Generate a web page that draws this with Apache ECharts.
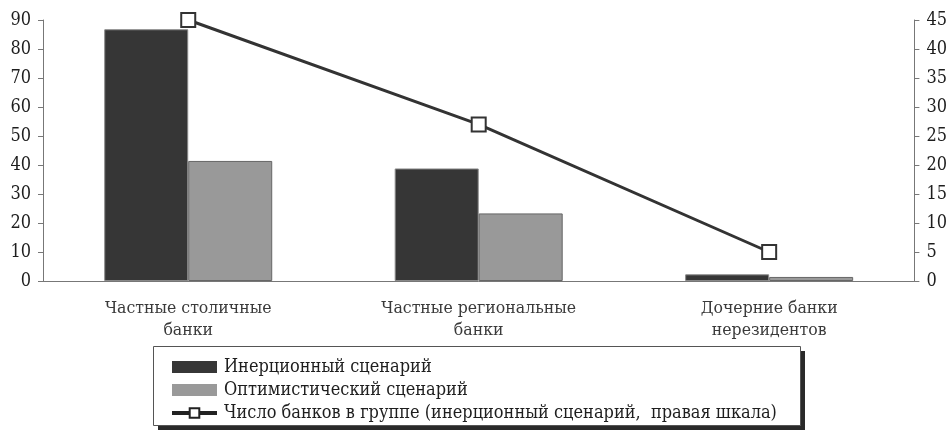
<!DOCTYPE html>
<html>
<head>
<meta charset="utf-8">
<script src="https://cdn.jsdelivr.net/npm/echarts@6/dist/echarts.min.js"></script>
<style>
  html, body { margin: 0; padding: 0; background: #fff; }
  #chart { width: 950px; height: 438px; }
</style>
</head>
<body>
<div id="chart"></div>
<script>
// Bank groups and scenario values
const categories = ['Частные столичные\nбанки', 'Частные региональные\nбанки', 'Дочерние банки\nнерезидентов'];
const inertialValues = [86.8, 38.8, 2.3];
const optimisticValues = [41.4, 23.3, 1.4];
const bankCounts = [45, 27, 5];
const leftTicks = { min: 0, max: 90, interval: 10 };
const rightTicks = { min: 0, max: 45, interval: 5 };
const seriesNames = ['Инерционный сценарий', 'Оптимистический сценарий', 'Число банков в группе (инерционный сценарий,  правая шкала)'];

const serif = '"DejaVu Serif Condensed", "DejaVu Serif", "Liberation Serif", serif';
const textColor = '#1e1e1e';

const chart = echarts.init(document.getElementById('chart'), null, { renderer: 'canvas' });
chart.setOption({
  animation: false,
  backgroundColor: '#fff',
  grid: { left: 43, right: 34, top: 20, bottom: 157 },
  graphic: [{
    // legend frame shadow
    type: 'rect',
    z: -2,
    shape: { x: 158, y: 351, width: 647, height: 79 },
    style: { fill: '#2a2a2a' }
  }, {
    type: 'rect',
    z: -1,
    shape: { x: 153.5, y: 346.5, width: 647, height: 79 },
    style: { fill: '#fff', stroke: '#555', lineWidth: 1 }
  }],
  legend: {
    orient: 'vertical',
    left: 170,
    top: 357,
    itemGap: 3,
    itemWidth: 45,
    itemHeight: 12,
    padding: 0,
    textStyle: { fontFamily: serif, fontSize: 18, lineHeight: 20, color: textColor, padding: [0, 0, 0, 2] },
    data: [
      { name: seriesNames[0], icon: 'rect', itemStyle: { borderWidth: 0 } },
      { name: seriesNames[1], icon: 'rect', itemStyle: { borderWidth: 0 } },
      { name: seriesNames[2], lineStyle: { width: 4, color: '#222' }, itemStyle: { borderWidth: 2, borderColor: '#222', color: '#fff' } }
    ]
  },
  xAxis: {
    type: 'category',
    data: categories,
    axisLine: { lineStyle: { color: '#777', width: 1 } },
    axisTick: { show: false },
    axisLabel: { fontFamily: serif, fontSize: 17.5, color: '#3a3a3a', lineHeight: 22, margin: 16 }
  },
  yAxis: [{
    type: 'value',
    min: leftTicks.min, max: leftTicks.max, interval: leftTicks.interval,
    axisLine: { show: true, lineStyle: { color: '#777' } },
    axisTick: { show: true, length: 5, lineStyle: { color: '#777' } },
    axisLabel: { fontFamily: serif, fontSize: 18, color: textColor, margin: 12 },
    splitLine: { show: false }
  }, {
    type: 'value',
    position: 'right',
    min: rightTicks.min, max: rightTicks.max, interval: rightTicks.interval,
    axisLine: { show: true, lineStyle: { color: '#777' } },
    axisTick: { show: true, length: 5, lineStyle: { color: '#777' } },
    axisLabel: { fontFamily: serif, fontSize: 18, color: textColor, margin: 12 },
    splitLine: { show: false }
  }],
  series: [{
    name: seriesNames[0],
    type: 'bar',
    data: inertialValues,
    barWidth: 84,
    barGap: '0%',
    itemStyle: { color: '#363636', borderColor: '#888', borderWidth: 1 }
  }, {
    name: seriesNames[1],
    type: 'bar',
    data: optimisticValues,
    barWidth: 84,
    barGap: '0%',
    itemStyle: { color: '#999', borderColor: '#666', borderWidth: 1 }
  }, {
    name: seriesNames[2],
    type: 'line',
    yAxisIndex: 1,
    data: bankCounts,
    symbol: 'rect',
    symbolSize: 14,
    lineStyle: { color: '#333', width: 3 },
    itemStyle: { color: '#fff', borderColor: '#333', borderWidth: 2 },
    z: 5
  }]
});
</script>
</body>
</html>
